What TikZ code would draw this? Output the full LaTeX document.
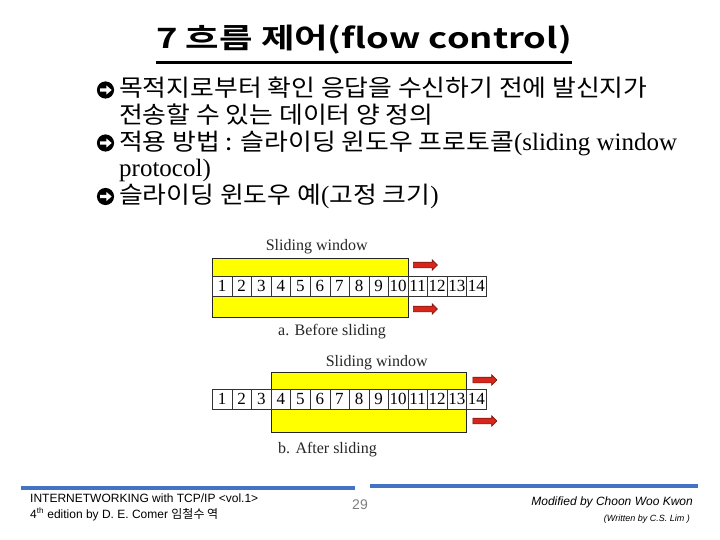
\documentclass[tikz,border=0pt]{standalone}
\usepackage{fontspec}
\setmainfont{Liberation Serif}
\setsansfont{Liberation Sans}
\newfontfamily\kr{Noto Sans CJK KR}[FakeStretch=1.1]
\newfontfamily\krfoot{Noto Sans CJK KR}
\newfontfamily\krhead{Noto Sans CJK KR Bold}[FakeStretch=1.3]
\usetikzlibrary{shapes.arrows,positioning}
\definecolor{Win}{HTML}{FFFF00}
\definecolor{Fwd}{HTML}{D9261C}
\definecolor{FwdEdge}{HTML}{7A1A10}
\definecolor{Bar}{HTML}{4472C4}
\definecolor{Page}{HTML}{7F7F7F}

\begin{document}
\begin{tikzpicture}[x=1pt,y=-1pt,
    cell/.style={draw=black!80,fill=white,minimum width=19.55pt,minimum height=19.3pt,
      inner sep=0pt,font=\fontsize{17}{17}\selectfont},
    win/.style={draw=black!85,fill=Win,line width=0.8pt},
    rarrow/.style={single arrow,fill=Fwd,draw=FwdEdge,line width=0.6pt,
      minimum height=24pt,inner sep=2.5pt,single arrow head extend=2.4pt},
    figlabel/.style={inner sep=0pt,text=black!85,font=\fontsize{16}{16}\selectfont},
    body/.style={anchor=base west,inner sep=0pt,font=\fontsize{25}{25}\selectfont},
    bulletmark/.pic={
      \fill[black] (0,0) circle (8.6);
      \fill[white] (-5.5,-1.6) -- (0.8,-1.6) -- (0.8,-4.6) -- (6.2,0) -- (0.8,4.6)
        -- (0.8,1.6) -- (-5.5,1.6) -- cycle;},
    foot/.style={inner sep=0pt,font=\sffamily\fontsize{12}{12}\selectfont}]
  \useasboundingbox (0,0) rectangle (720,540);

  % title
  \node[inner sep=0pt,font=\krhead\fontsize{28}{30}\selectfont] (title) at (364,40)
    {7 흐름 제어(flow control)};
  \path (title.base west) ++(0,14) coordinate (ulL);
  \path (title.base east) ++(0,14) coordinate (ulR);
  \draw[line width=3pt] (ulL) -- (ulR);

  % bullets
  \pic at (105.5,90) {bulletmark};
  \node[body] (txt1) at (119,97) {\kr\fontsize{23.5}{24}\selectfont 목적지로부터 확인 응답을 수신하기 전에 발신지가};
  \node[body] (txt2) at (119,123.7) {\kr\fontsize{23.5}{24}\selectfont 전송할 수 있는 데이터 양 정의};
  \pic at (105.5,143) {bulletmark};
  \node[body] (txt3) at (119,150.4) {{\kr\fontsize{23.5}{24}\selectfont 적용 방법 : 슬라이딩 윈도우 프로토콜}(sliding window};
  \node[body] (txt4) at (119,177) {protocol)};
  \pic at (105.5,196.5) {bulletmark};
  \node[body] (txt5) at (119,203.8) {{\kr\fontsize{23.5}{24}\selectfont 슬라이딩 윈도우 예}({\kr\fontsize{23.5}{24}\selectfont 고정 크기})};

  % a. before sliding
  \node[figlabel] (winA) at (316.7,247) {Sliding window};
  \draw[win] (212.4,258) rectangle (408,317);
  \foreach \i in {1,...,14}
    \node[cell] (a\i) at ({212.4+(\i-0.5)*19.55},286.3) {\i};
  \node[rarrow] (upA) at (424,265) {};
  \node[rarrow] (loA) at (424,309) {};
  \node[figlabel] (capA) at (332,331.5) {a. Before sliding};

  % b. after sliding
  \node[figlabel] (winB) at (376.7,362.5) {Sliding window};
  \draw[win] (271,372) rectangle (466.6,432);
  \foreach \i in {1,...,14}
    \node[cell] (b\i) at ({212.4+(\i-0.5)*19.55},399.3) {\i};
  \node[rarrow] (upB) at (483.5,380) {};
  \node[rarrow] (loB) at (483.5,421) {};
  \node[figlabel] (capB) at (327.5,450) {b. After sliding};

  % footer
  \fill[Bar] (21,486) rectangle (355,490);
  \fill[Bar] (370,484) rectangle (698,488);
  \node[foot,anchor=base west] (bookA) at (30,502) {INTERNETWORKING with TCP/IP <vol.1>};
  \node[foot,anchor=base west] (bookB) at (30,518) {4\textsuperscript{th} edition by D. E. Comer {\krfoot 임철수 역}};
  \node[foot,text=Page,font=\sffamily\fontsize{14}{14}\selectfont] (pageno) at (360,505) {29};
  \node[foot,anchor=base east,font=\sffamily\itshape\fontsize{12}{12}\selectfont] (modA) at (693,505) {Modified by Choon Woo Kwon};
  \node[foot,anchor=base east,font=\sffamily\itshape\fontsize{9}{9}\selectfont] (modB) at (690,521) {(Written by C.S. Lim )};
\end{tikzpicture}
\end{document}
